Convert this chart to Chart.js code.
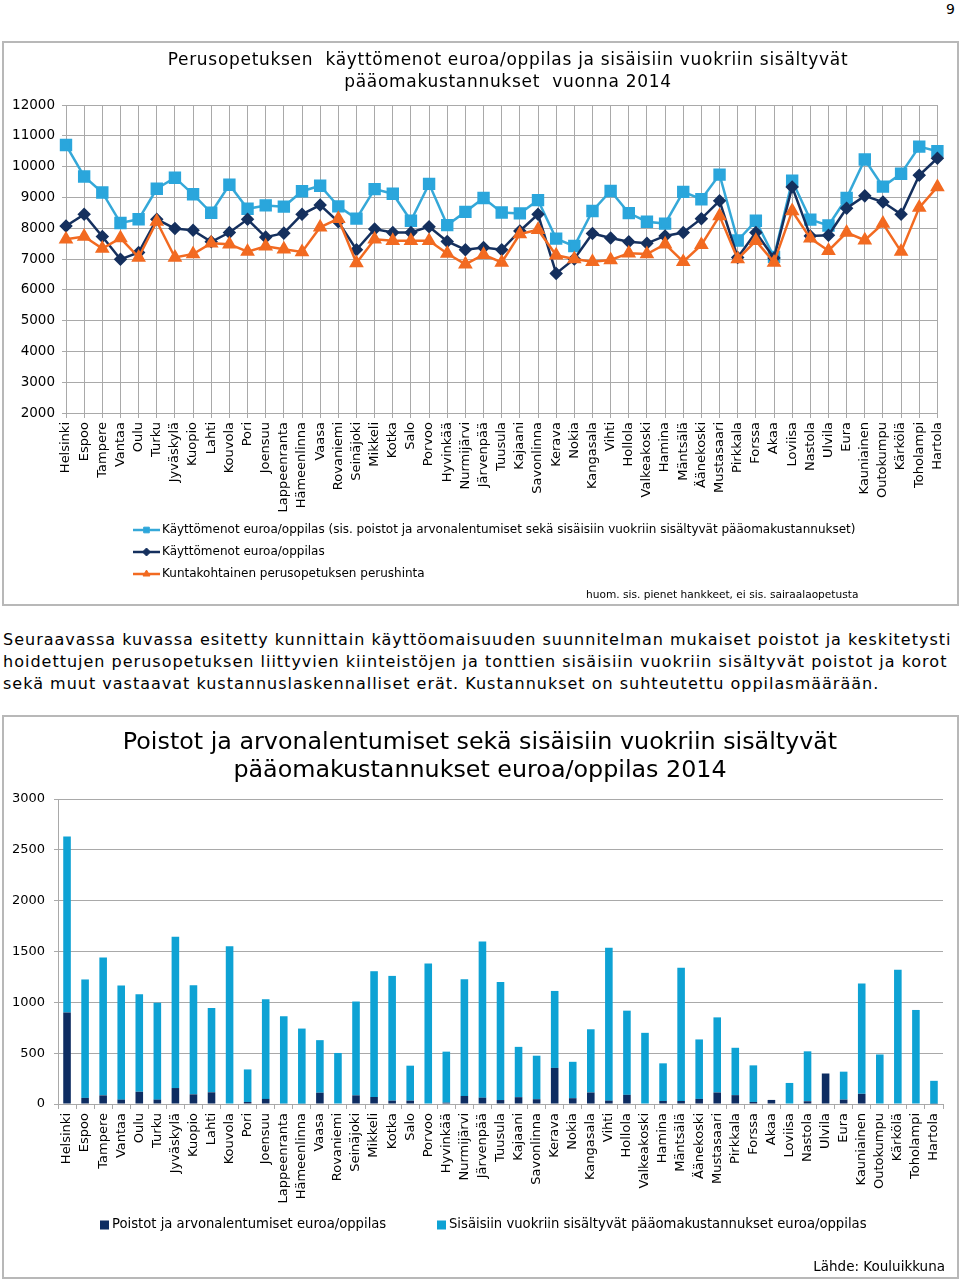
<!DOCTYPE html>
<html>
<head>
<meta charset="utf-8">
<script src="https://cdn.jsdelivr.net/npm/chart.js"></script>
<style>
  body { margin: 0; background: #fff; font-family: 'DejaVu Sans', Verdana, sans-serif; color: #000; }
  .page { position: relative; width: 960px; height: 1280px; overflow: hidden; }
  .abs { position: absolute; white-space: pre; }
  .box { position: absolute; box-sizing: border-box; border: 2px solid #b8b8b8; }
  .para { position: absolute; left: 3px; font-size: 16px; line-height: 22px; letter-spacing: 1px; white-space: nowrap; }
  .just { text-align: justify; text-align-last: justify; }
  canvas { position: absolute; }
</style>
</head>
<body>
<div class="page">
  <div class="abs" style="left:946px; top:1px; font-size:14px;">9</div>

  <!-- chart 1 -->
  <div class="box" style="left:2px; top:41px; width:957px; height:565px;"></div>
  <canvas id="lineChart" width="953" height="561" style="left:4px; top:43px;"></canvas>
  <div class="abs" style="left:108px; top:48px; width:800px; text-align:center; font-size:17px; letter-spacing:0.7px; line-height:22px;">Perusopetuksen  käyttömenot euroa/oppilas ja sisäisiin vuokriin sisältyvät
pääomakustannukset  vuonna 2014</div>
  <div class="abs" style="left:586px; top:588px; font-size:10.6px; line-height:12px;">huom. sis. pienet hankkeet, ei sis. sairaalaopetusta</div>

  <!-- text between -->
  <div class="para just" style="top:629px; width:947px;">Seuraavassa kuvassa esitetty kunnittain käyttöomaisuuden suunnitelman mukaiset poistot ja keskitetysti</div>
  <div class="para just" style="top:651px; width:937px;">hoidettujen perusopetuksen liittyvien kiinteistöjen ja tonttien sisäisiin vuokriin sisältyvät poistot ja korot</div>
  <div class="para" style="top:673px;">sekä muut vastaavat kustannuslaskennalliset erät. Kustannukset on suhteutettu oppilasmäärään.</div>

  <!-- chart 2 -->
  <div class="box" style="left:2px; top:715px; width:957px; height:564px;"></div>
  <canvas id="barChart" width="953" height="560" style="left:4px; top:717px;"></canvas>
  <div class="abs" style="left:80px; top:727px; width:800px; text-align:center; font-size:23.8px; line-height:28px;">Poistot ja arvonalentumiset sekä sisäisiin vuokriin sisältyvät
pääomakustannukset euroa/oppilas 2014</div>
  <div class="abs" style="left:745px; top:1258px; width:200px; text-align:right; font-size:13.5px; line-height:16px;">Lähde: Kouluikkuna</div>
</div>

<script>
// municipalities, same order in both charts
const kunnat = ["Helsinki","Espoo","Tampere","Vantaa","Oulu","Turku","Jyväskylä","Kuopio","Lahti","Kouvola",
  "Pori","Joensuu","Lappeenranta","Hämeenlinna","Vaasa","Rovaniemi","Seinäjoki","Mikkeli","Kotka","Salo",
  "Porvoo","Hyvinkää","Nurmijärvi","Järvenpää","Tuusula","Kajaani","Savonlinna","Kerava","Nokia","Kangasala",
  "Vihti","Hollola","Valkeakoski","Hamina","Mäntsälä","Äänekoski","Mustasaari","Pirkkala","Forssa","Akaa",
  "Loviisa","Nastola","Ulvila","Eura","Kauniainen","Outokumpu","Kärkölä","Toholampi","Hartola"];

// chart 1: euroa/oppilas
const kayttomenotSis = [10700,9680,9160,8170,8290,9280,9640,9100,8500,9410,
  8630,8740,8700,9200,9380,8710,8310,9270,9120,8240,
  9440,8100,8530,8980,8510,8480,8910,7660,7420,8560,
  9210,8490,8210,8150,9180,8940,9740,7600,8240,7070,
  9540,8280,8090,8980,10230,9350,9770,10650,10500];
const kayttomenot = [8070,8450,7730,6990,7210,8290,7990,7930,7560,7860,
  8290,7710,7840,8450,8750,8210,7300,7970,7860,7860,
  8050,7570,7300,7370,7300,7910,8450,6530,7000,7830,
  7680,7560,7510,7750,7860,8310,8890,7050,7860,7030,
  9340,7750,7770,8650,9050,8850,8450,9720,10270];
const perushinta = [7640,7730,7340,7680,7050,8220,7050,7160,7510,7480,
  7240,7410,7320,7230,8030,8310,6870,7640,7590,7590,
  7590,7180,6830,7140,6890,7810,7950,7120,7000,6910,
  6970,7190,7160,7480,6910,7460,8400,7000,7590,6890,
  8560,7670,7270,7860,7610,8150,7240,8670,9340];
const yTicks1 = [2000, 12000, 1000];

// chart 2: euroa/oppilas
const poistot = [900,60,85,43,120,43,157,95,115,0,
  20,50,4,4,111,0,85,69,33,33,
  0,13,79,62,39,67,47,355,57,113,
  33,90,5,30,30,50,113,87,20,40,
  0,27,300,43,100,0,0,5,3];
const vuokrat = [1730,1165,1355,1122,960,952,1488,1073,830,1552,
  320,980,858,738,517,502,923,1237,1227,344,
  1382,502,1149,1536,1161,495,428,757,358,622,
  1505,828,695,370,1310,585,739,466,360,0,
  207,491,0,275,1085,487,1320,920,225];
const yTicks2 = [0, 3000, 500];

const nimet1 = ["Käyttömenot euroa/oppilas (sis. poistot ja arvonalentumiset sekä sisäisiin vuokriin sisältyvät pääomakustannukset)",
  "Käyttömenot euroa/oppilas", "Kuntakohtainen perusopetuksen perushinta"];
const nimet2 = ["Poistot ja arvonalentumiset euroa/oppilas", "Sisäisiin vuokriin sisältyvät pääomakustannukset euroa/oppilas"];

const FONT = "'DejaVu Sans', Verdana, sans-serif";
const GRID = '#a9a9a9';

// legend drawn as a vertical list under the axis labels (like the original)
const lineLegend = {
  id: 'lineLegend',
  afterDraw(chart) {
    const ctx = chart.ctx;
    const x0 = chart.chartArea.left + 67;
    const y0 = chart.chartArea.bottom + 117;
    chart.data.datasets.forEach((ds, i) => {
      const y = y0 + i * 22;
      ctx.save();
      ctx.strokeStyle = ds.borderColor;
      ctx.fillStyle = ds.pointBackgroundColor;
      ctx.lineWidth = 2.5;
      ctx.beginPath();
      ctx.moveTo(x0, y);
      ctx.lineTo(x0 + 27, y);
      ctx.stroke();
      ctx.lineWidth = 1;
      Chart.helpers.drawPoint(ctx, {pointStyle: ds.pointStyle, radius: 4, rotation: 0, borderWidth: 1}, x0 + 13.5, y);
      ctx.fillStyle = '#000';
      ctx.font = '12px ' + FONT;
      ctx.textBaseline = 'middle';
      ctx.fillText(ds.label, x0 + 29, y);
      ctx.restore();
    });
  }
};

const barLegend = {
  id: 'barLegend',
  afterDraw(chart) {
    const ctx = chart.ctx;
    const y = chart.chartArea.bottom + 121;
    const xs = [chart.chartArea.left + 42, chart.chartArea.left + 379];
    chart.data.datasets.forEach((ds, i) => {
      ctx.save();
      ctx.fillStyle = ds.backgroundColor;
      ctx.fillRect(xs[i], y - 4.5, 9, 9);
      ctx.fillStyle = '#000';
      ctx.font = '13.2px ' + FONT;
      ctx.textBaseline = 'middle';
      ctx.fillText(ds.label, xs[i] + 12, y);
      ctx.restore();
    });
  }
};

const plainNumber = v => String(v);

new Chart(document.getElementById('lineChart').getContext('2d'), {
  type: 'line',
  data: {
    labels: kunnat,
    datasets: [{
      label: nimet1[0],
      data: kayttomenotSis,
      borderColor: '#35a8d8',
      backgroundColor: '#35a8d8',
      pointBackgroundColor: '#2aa6dc',
      pointBorderColor: '#2aa6dc',
      pointStyle: 'rect',
      pointRadius: 7,
      borderWidth: 2.5,
      order: 2
    }, {
      label: nimet1[1],
      data: kayttomenot,
      borderColor: '#15305e',
      backgroundColor: '#15305e',
      pointBackgroundColor: '#15305e',
      pointBorderColor: '#15305e',
      pointStyle: 'rectRot',
      pointRadius: 5,
      borderWidth: 2.5,
      order: 1
    }, {
      label: nimet1[2],
      data: perushinta,
      borderColor: '#f26a21',
      backgroundColor: '#f26a21',
      pointBackgroundColor: '#f26a21',
      pointBorderColor: '#f26a21',
      pointStyle: 'triangle',
      pointRadius: 6,
      borderWidth: 2.5,
      order: 0
    }]
  },
  options: {
    responsive: false,
    animation: false,
    layout: { padding: { left: 0, right: 19, top: 62, bottom: 81 } },
    plugins: { legend: { display: false }, title: { display: false }, tooltip: { enabled: false } },
    scales: {
      x: {
        grid: { color: GRID, tickLength: 5, offset: false },
        border: { color: GRID },
        ticks: { autoSkip: false, minRotation: 90, maxRotation: 90, padding: 4, color: '#000', font: { family: FONT, size: 13 } },
        afterFit: s => { s.height = 110; }
      },
      y: {
        min: yTicks1[0], max: yTicks1[1],
        grid: { color: GRID, tickLength: 4 },
        border: { color: GRID },
        ticks: { stepSize: yTicks1[2], padding: 7, color: '#000', font: { family: FONT, size: 13.5 }, callback: plainNumber },
        afterFit: s => { s.width = 62; }
      }
    }
  },
  plugins: [lineLegend]
});

new Chart(document.getElementById('barChart').getContext('2d'), {
  type: 'bar',
  data: {
    labels: kunnat,
    datasets: [{
      label: nimet2[0],
      data: poistot,
      backgroundColor: '#0e2d62',
      barPercentage: 0.42,
      categoryPercentage: 1
    }, {
      label: nimet2[1],
      data: vuokrat,
      backgroundColor: '#0ea2d4',
      barPercentage: 0.42,
      categoryPercentage: 1
    }]
  },
  options: {
    responsive: false,
    animation: false,
    layout: { padding: { left: 0, right: 14, top: 82, bottom: 53 } },
    plugins: { legend: { display: false }, title: { display: false }, tooltip: { enabled: false } },
    scales: {
      x: {
        stacked: true,
        grid: { color: GRID, drawOnChartArea: false, tickLength: 5 },
        border: { color: GRID },
        ticks: { autoSkip: false, minRotation: 90, maxRotation: 90, padding: 4, color: '#000', font: { family: FONT, size: 13 } },
        afterFit: s => { s.height = 120; }
      },
      y: {
        stacked: true,
        min: yTicks2[0], max: yTicks2[1],
        grid: { color: GRID, tickLength: 4 },
        border: { color: GRID },
        ticks: { stepSize: yTicks2[2], padding: 9, color: '#000', font: { family: FONT, size: 13 }, callback: plainNumber },
        afterFit: s => { s.width = 54; }
      }
    }
  },
  plugins: [barLegend]
});
</script>
</body>
</html>
